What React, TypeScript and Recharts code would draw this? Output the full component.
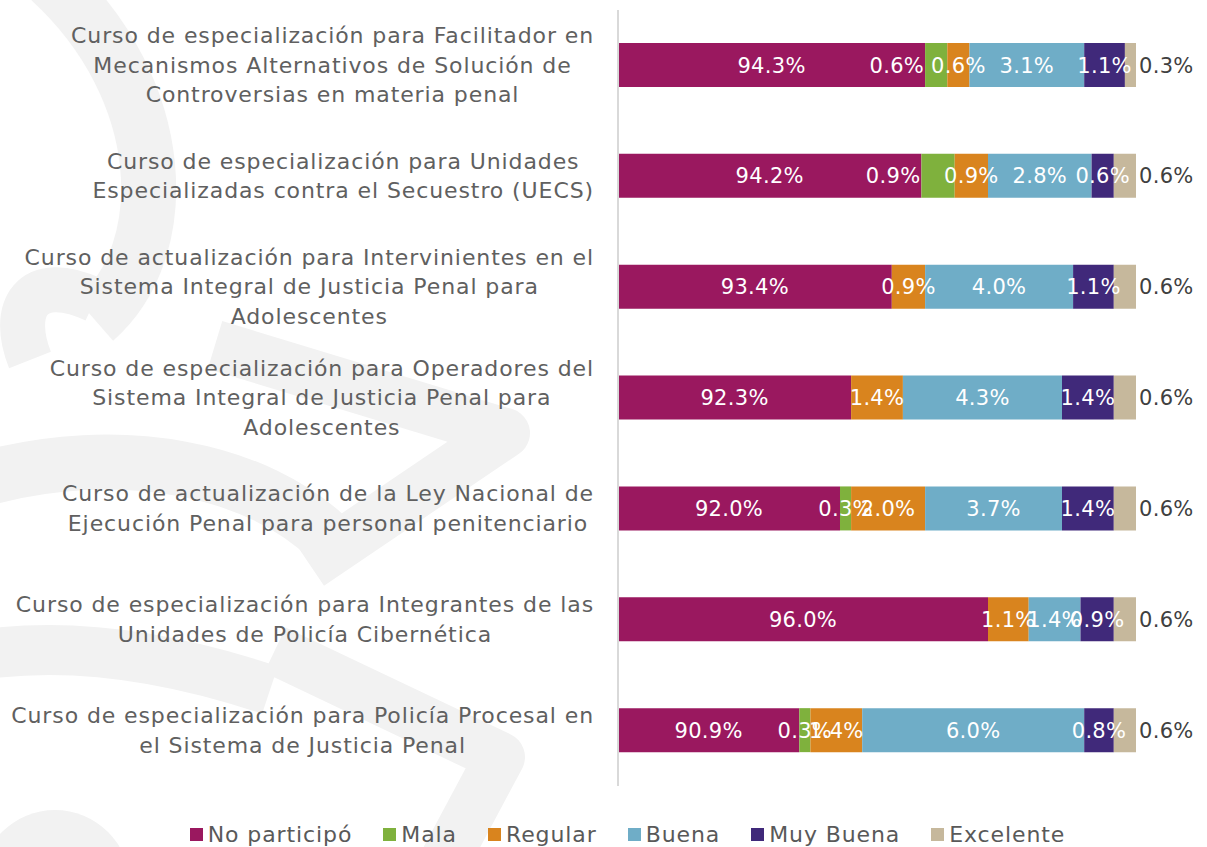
import React from 'react';
import { BarChart, Bar, XAxis, YAxis, Legend, LabelList } from 'recharts';

const courses = [
  'Curso de especialización para Facilitador en\nMecanismos Alternativos de Solución de\nControversias en materia penal',
  'Curso de especialización para Unidades\nEspecializadas contra el Secuestro (UECS)',
  'Curso de actualización para Intervinientes en el\nSistema Integral de Justicia Penal para\nAdolescentes',
  'Curso de especialización para Operadores del\nSistema Integral de Justicia Penal para\nAdolescentes',
  'Curso de actualización de la Ley Nacional de\nEjecución Penal para personal penitenciario',
  'Curso de especialización para Integrantes de las\nUnidades de Policía Cibernética',
  'Curso de especialización para Policía Procesal en\nel Sistema de Justicia Penal',
];

const noParticipo = [94.3, 94.2, 93.4, 92.3, 92.0, 96.0, 90.9];
const mala = [0.6, 0.9, 0, 0, 0.3, 0, 0.3];
const regular = [0.6, 0.9, 0.9, 1.4, 2.0, 1.1, 1.4];
const buena = [3.1, 2.8, 4.0, 4.3, 3.7, 1.4, 6.0];
const muyBuena = [1.1, 0.6, 1.1, 1.4, 1.4, 0.9, 0.8];
const excelente = [0.3, 0.6, 0.6, 0.6, 0.6, 0.6, 0.6];

// the axis starts at 86% so the small answers can be seen
const axisDomain = [86, 100];

const series = [
  { key: 'noParticipo', name: 'No participó', color: '#9A185F' },
  { key: 'mala', name: 'Mala', color: '#7FB13D' },
  { key: 'regular', name: 'Regular', color: '#D9841E' },
  { key: 'buena', name: 'Buena', color: '#6FADC7' },
  { key: 'muyBuena', name: 'Muy Buena', color: '#40297A' },
  { key: 'excelente', name: 'Excelente', color: '#C6B89C' },
];

const data = courses.map((name, i) => ({
  name,
  noParticipo: noParticipo[i],
  mala: mala[i],
  regular: regular[i],
  buena: buena[i],
  muyBuena: muyBuena[i],
  excelente: excelente[i],
}));

const FONT = '"DejaVu Sans", sans-serif';
const PLOT_LEFT = 618;

const fmt = (v: number) => `${v.toFixed(1)}%`;

function CourseTick({ y, payload }: any) {
  return (
    <foreignObject x={0} y={y - 60} width={594} height={120}>
      <div
        style={{
          height: '100%',
          display: 'flex',
          alignItems: 'center',
          justifyContent: 'flex-end',
          fontFamily: FONT,
          fontSize: 22,
          letterSpacing: '0.9px',
          lineHeight: '29.5px',
          color: '#606060',
        }}
      >
        <div style={{ textAlign: 'center', whiteSpace: 'pre-line' }}>{payload.value}</div>
      </div>
    </foreignObject>
  );
}

function InsideLabel({ x, y, width, height, value, anchorLeft }: any) {
  if (!value) return null;
  const left = Math.max(x, PLOT_LEFT);
  let cx = (left + x + width) / 2;
  let anchor = 'middle';
  // small "Mala" answers sit just left of their segment, as in the source
  if (anchorLeft && value >= 0.5) {
    cx = x - 1;
    anchor = 'end';
  }
  return (
    <text x={cx} y={y + height / 2} dy="0.36em" textAnchor={anchor} fill="#ffffff" fontSize={21} letterSpacing={0.3} fontFamily={FONT}>
      {fmt(value)}
    </text>
  );
}

function OutsideLabel({ x, y, width, height, value }: any) {
  return (
    <text x={x + width + 3} y={y + height / 2} dy="0.36em" textAnchor="start" fill="#404040" fontSize={21} letterSpacing={0.3} fontFamily={FONT}>
      {fmt(value)}
    </text>
  );
}

function LegendRow() {
  return (
    <div
      style={{
        display: 'flex',
        justifyContent: 'center',
        paddingLeft: 48,
        fontFamily: FONT,
        fontSize: 22,
        letterSpacing: '0.9px',
        color: '#595959',
      }}
    >
      {series.map((s, i) => (
        <div key={s.key} style={{ display: 'flex', alignItems: 'center', marginLeft: i === 0 ? 0 : 31 }}>
          <span style={{ width: 13, height: 13, background: s.color, display: 'inline-block', marginRight: 5 }} />
          <span>{s.name}</span>
        </div>
      ))}
    </div>
  );
}

function Watermark() {
  const c = '#f2f2f2';
  return (
    <svg width={1207} height={847} style={{ position: 'absolute', left: 0, top: 0 }}>
      <path d="M 50 -20 C 170 90, 175 250, 95 320" stroke={c} strokeWidth={55} fill="none" />
      <path d="M 95 300 C 30 270, 10 310, 30 360" stroke={c} strokeWidth={45} fill="none" />
      <path d="M 215 345 L 505 433 L 310 565" stroke={c} strokeWidth={50} fill="none" strokeLinejoin="round" />
      <path d="M -20 480 C 120 440, 260 470, 330 540" stroke={c} strokeWidth={55} fill="none" />
      <path d="M 275 650 L 500 757 L 445 860" stroke={c} strokeWidth={50} fill="none" strokeLinejoin="round" />
      <path d="M -20 655 C 80 640, 180 660, 270 690" stroke={c} strokeWidth={50} fill="none" />
      <circle cx={55} cy={885} r={75} fill={c} />
    </svg>
  );
}

export default function App() {
  return (
    <div style={{ position: 'absolute', left: 0, top: 0, width: 1207, height: 847, background: '#fff', overflow: 'hidden' }}>
      <Watermark />
      <div style={{ position: 'absolute', left: 0, top: 0 }}>
        <BarChart
          width={1207}
          height={847}
          data={data}
          layout="vertical"
          margin={{ top: 10, right: 71, bottom: 36, left: 0 }}
          barSize={44}
        >
          <XAxis type="number" domain={axisDomain} allowDataOverflow hide />
          <YAxis
            type="category"
            dataKey="name"
            width={618}
            axisLine={{ stroke: '#D9D9D9', strokeWidth: 2 }}
            tickLine={false}
            tick={<CourseTick />}
            interval={0}
          />
          <Legend verticalAlign="bottom" wrapperStyle={{ bottom: 0, left: 0, width: 1207 }} content={() => <LegendRow />} />
          {series.map((s) => (
            <Bar key={s.key} dataKey={s.key} name={s.name} stackId="a" fill={s.color} isAnimationActive={false}>
              {s.key === 'excelente' ? (
                <LabelList dataKey={s.key} content={<OutsideLabel />} />
              ) : (
                <LabelList dataKey={s.key} content={<InsideLabel anchorLeft={s.key === 'mala'} />} />
              )}
            </Bar>
          ))}
        </BarChart>
      </div>
    </div>
  );
}
